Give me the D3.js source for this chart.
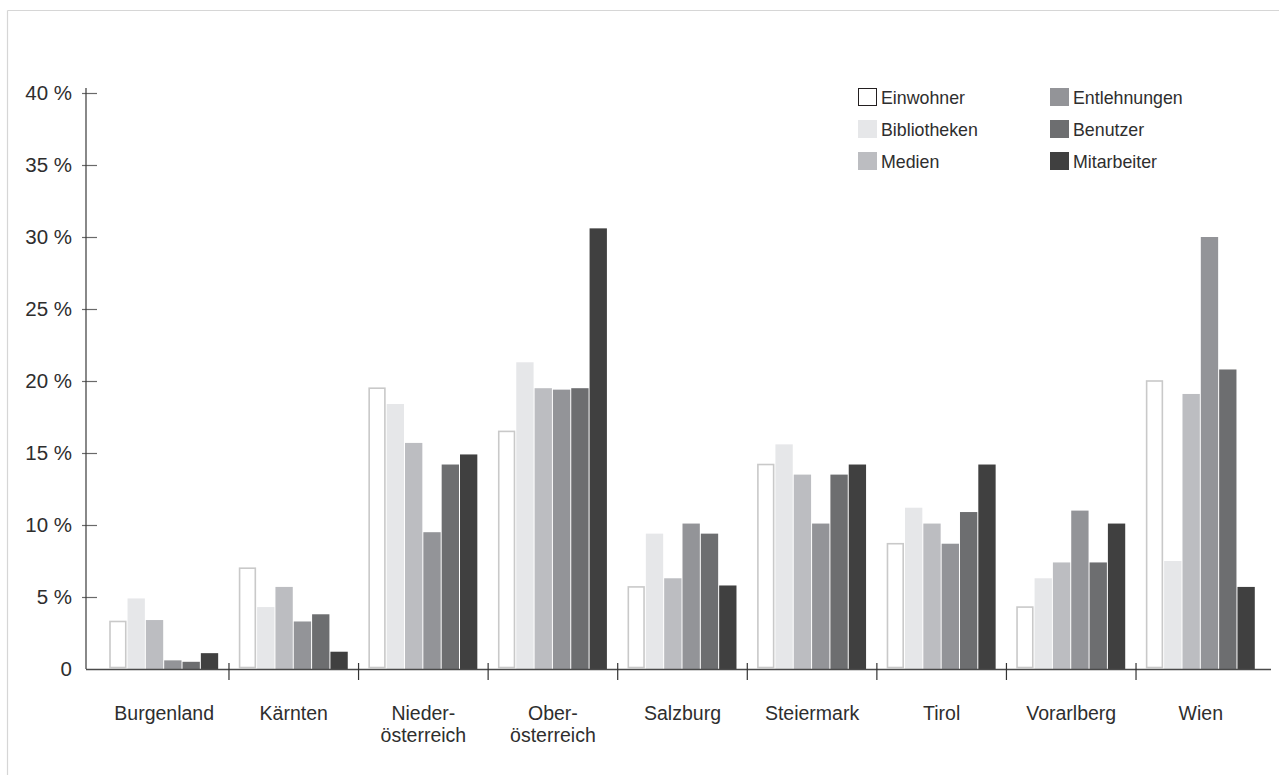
<!DOCTYPE html>
<html lang="de">
<head>
<meta charset="utf-8">
<title>Bibliotheken nach Bundesländern</title>
<script src="https://cdn.jsdelivr.net/npm/d3@7/dist/d3.min.js"></script>
<style>
  html, body { margin: 0; padding: 0; background: #fff; }
  svg { display: block; font-family: "Liberation Sans", Arial, sans-serif; }
  text { fill: #2e2e2e; }
</style>
</head>
<body>
<svg id="chart" width="1279" height="775"></svg>
<script>
// Bundesländer (two-line labels split on "\n")
const categories = ["Burgenland", "Kärnten", "Nieder-\nösterreich", "Ober-\nösterreich",
  "Salzburg", "Steiermark", "Tirol", "Vorarlberg", "Wien"];

const series = ["Einwohner", "Bibliotheken", "Medien", "Entlehnungen", "Benutzer", "Mitarbeiter"];

// Share of the Austrian total per Bundesland, in percent
const einwohner    = [3.3, 7.0, 19.5, 16.5, 5.7, 14.2, 8.7, 4.3, 20.0];
const bibliotheken = [4.9, 4.3, 18.4, 21.3, 9.4, 15.6, 11.2, 6.3, 7.5];
const medien       = [3.4, 5.7, 15.7, 19.5, 6.3, 13.5, 10.1, 7.4, 19.1];
const entlehnungen = [0.6, 3.3, 9.5, 19.4, 10.1, 10.1, 8.7, 11.0, 30.0];
const benutzer     = [0.5, 3.8, 14.2, 19.5, 9.4, 13.5, 10.9, 7.4, 20.8];
const mitarbeiter  = [1.1, 1.2, 14.9, 30.6, 5.8, 14.2, 14.2, 10.1, 5.7];

const yTicks = [0, 5, 10, 15, 20, 25, 30, 35, 40];

const valuesBySeries = [einwohner, bibliotheken, medien, entlehnungen, benutzer, mitarbeiter];

const fills = ["#ffffff", "#e6e7e9", "#bcbdc1", "#939498", "#6d6e70", "#404040"];

const svg = d3.select("#chart");

// light frame along the top and left edge
svg.append("line").attr("x1", 7.5).attr("x2", 1279).attr("y1", 10.5).attr("y2", 10.5)
  .attr("stroke", "#d6d6d6").attr("stroke-width", 1.2);
svg.append("line").attr("x1", 7.5).attr("x2", 7.5).attr("y1", 10.5).attr("y2", 775)
  .attr("stroke", "#d6d6d6").attr("stroke-width", 1.2);

const axisX = 86;
const y = d3.scaleLinear().domain([0, 40]).range([669, 93]);

const x0 = d3.scaleBand().domain(categories).range([99.4, 1265.6]).paddingInner(0).paddingOuter(0);
const x1 = d3.scaleBand().domain(series).range([0, x0.bandwidth()]).paddingInner(0).paddingOuter(0.535);

// bars
const groups = svg.append("g").selectAll("g")
  .data(categories)
  .join("g")
  .attr("transform", d => `translate(${x0(d)},0)`);

groups.each(function (cat, ci) {
  const g = d3.select(this);
  series.forEach((s, si) => {
    const v = valuesBySeries[si][ci];
    const bx = x1(s);
    const bw = x1.bandwidth();
    if (si === 0) {
      g.append("rect")
        .attr("x", bx + 0.8)
        .attr("y", y(v))
        .attr("width", bw - 2.6)
        .attr("height", y(0) - y(v) - 1.5)
        .attr("fill", "#ffffff")
        .attr("stroke", "#c9c9c9")
        .attr("stroke-width", 1.6);
    } else {
      g.append("rect")
        .attr("x", bx)
        .attr("y", y(v))
        .attr("width", bw - 1)
        .attr("height", y(0) - y(v))
        .attr("fill", fills[si]);
    }
  });
});

// y axis
const yAxis = d3.axisLeft(y)
  .tickValues(yTicks)
  .tickSize(4)
  .tickPadding(10)
  .tickFormat(d => d === 0 ? "0" : d + " %");

const gy = svg.append("g").attr("transform", `translate(${axisX},0)`).call(yAxis);
gy.select(".domain").remove();
gy.append("line").attr("x1", 0).attr("x2", 0).attr("y1", 88).attr("y2", 669)
  .attr("stroke", "#3a3a3a").attr("stroke-width", 1.2);
gy.selectAll(".tick line")
  .attr("x1", -4).attr("x2", 11)
  .attr("stroke", "#6a6a6a").attr("stroke-width", 1.2)
  .filter(d => d === 0).remove();
gy.selectAll(".tick text")
  .attr("x", -14)
  .attr("font-size", 20.5)
  .attr("fill", "#2e2e2e");

// x baseline
svg.append("line").attr("x1", axisX).attr("x2", 1271).attr("y1", 669.5).attr("y2", 669.5)
  .attr("stroke", "#4a4a4a").attr("stroke-width", 1.6);

// separators between Bundesländer
svg.append("g").selectAll("line")
  .data(categories.slice(1))
  .join("line")
  .attr("x1", d => x0(d)).attr("x2", d => x0(d))
  .attr("y1", 663).attr("y2", 680)
  .attr("stroke", "#333").attr("stroke-width", 1.2);

// category labels
svg.append("g").selectAll("text")
  .data(categories)
  .join("text")
  .attr("x", d => x0(d) + x0.bandwidth() / 2)
  .attr("y", 720)
  .attr("text-anchor", "middle")
  .attr("font-size", 19.5)
  .each(function (d) {
    const lines = d.split("\n");
    d3.select(this).selectAll("tspan")
      .data(lines)
      .join("tspan")
      .attr("x", x0(d) + x0.bandwidth() / 2)
      .attr("dy", (l, i) => i === 0 ? 0 : 21.7)
      .text(l => l);
  });

// legend
const legendCols = [858, 1050];
const legendRows = [88, 120, 152];
const legend = svg.append("g").selectAll("g")
  .data(series)
  .join("g")
  .attr("transform", (d, i) => `translate(${legendCols[Math.floor(i / 3)]},${legendRows[i % 3]})`);

legend.append("rect")
  .attr("x", (d, i) => i === 0 ? 0.5 : 0)
  .attr("y", (d, i) => i === 0 ? 0.5 : 0)
  .attr("width", (d, i) => i === 0 ? 18 : 19)
  .attr("height", (d, i) => i === 0 ? 17 : 18)
  .attr("fill", (d, i) => fills[i])
  .attr("stroke", (d, i) => i === 0 ? "#231f20" : "none")
  .attr("stroke-width", 1);

legend.append("text")
  .attr("x", 23)
  .attr("y", 16)
  .attr("font-size", 17.8)
  .text(d => d);
</script>
</body>
</html>
